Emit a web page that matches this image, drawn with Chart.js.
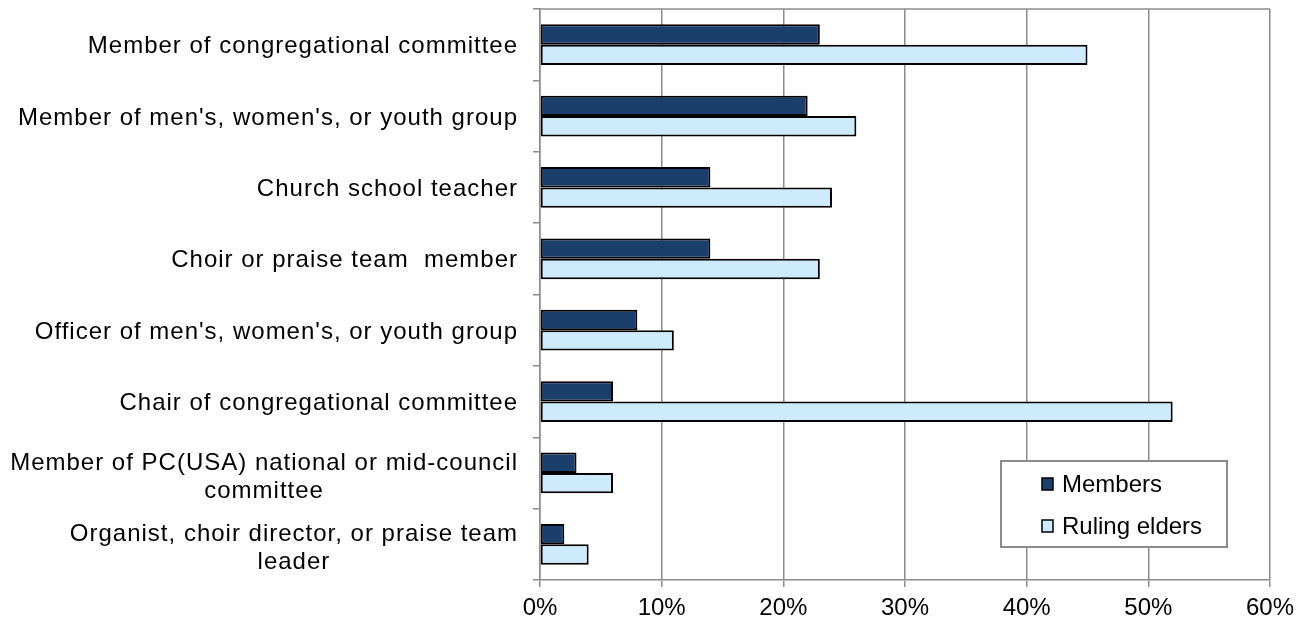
<!DOCTYPE html>
<html lang="en">
<head>
<meta charset="UTF-8">
<title>Congregational roles</title>
<script src="https://cdn.jsdelivr.net/npm/chart.js"></script>
<style>
    body { margin: 0; background: #ffffff; }
    #chart { display: block; }
</style>
</head>
<body>
<canvas id="chart" width="1308" height="627"></canvas>
<script>
// roles, one array per label (extra entries = extra lines)
var roles = [
    ['Member of congregational committee'],
    ["Member of men's, women's, or youth group"],
    ['Church school teacher'],
    ['Choir or praise team  member'],
    ["Officer of men's, women's, or youth group"],
    ['Chair of congregational committee'],
    ['Member of PC(USA) national or mid-council', 'committee'],
    ['Organist, choir director, or praise team', 'leader']
];
var members = [23, 22, 14, 14, 8, 6, 3, 2];
var rulingElders = [45, 26, 24, 23, 11, 52, 6, 4];
var percentTicks = [0, 10, 20, 30, 40, 50, 60];

var FAMILY = '"Liberation Sans", Arial, sans-serif';
var FONT = '24px ' + FAMILY;
var GRID = '#8c8c8c';

// category labels: block right-aligned, lines centred inside the block
var roleLabels = {
    id: 'roleLabels',
    afterDraw: function (chart) {
        var ctx = chart.ctx, y = chart.scales.y, area = chart.chartArea;
        ctx.save();
        ctx.letterSpacing = '1px';
        ctx.font = FONT;
        ctx.fillStyle = '#000';
        ctx.textAlign = 'center';
        ctx.textBaseline = 'middle';
        var right = area.left - 22;
        var lh = 28;
        roles.forEach(function (lines, i) {
            var w = Math.max.apply(null, lines.map(function (l) { return ctx.measureText(l).width; }));
            var cy = y.getPixelForValue(i) + 2 + (lines.length > 1 ? 2 : 0);
            lines.forEach(function (line, j) {
                ctx.fillText(line, right - w / 2, cy + (j - (lines.length - 1) / 2) * lh);
            });
        });
        // top edge of the plot
        ctx.strokeStyle = GRID;
        ctx.lineWidth = 1.5;
        ctx.beginPath();
        ctx.moveTo(area.left, area.top);
        ctx.lineTo(area.right, area.top);
        ctx.stroke();
        ctx.restore();
    }
};

// boxed legend sitting inside the plot, lower right
var boxLegend = {
    id: 'boxLegend',
    afterDraw: function (chart) {
        var ctx = chart.ctx;
        var bx = 1001, by = 461, bw = 226, bh = 86;
        ctx.save();
        ctx.fillStyle = '#ffffff';
        ctx.fillRect(bx, by, bw, bh);
        ctx.strokeStyle = GRID;
        ctx.lineWidth = 2;
        ctx.strokeRect(bx, by, bw, bh);
        ctx.font = FONT;
        ctx.textBaseline = 'middle';
        ctx.textAlign = 'left';
        chart.data.datasets.forEach(function (ds, i) {
            var cy = by + 23 + i * 42;
            ctx.fillStyle = ds.backgroundColor;
            ctx.fillRect(bx + 41, cy - 6, 11, 12);
            ctx.strokeStyle = '#000';
            ctx.lineWidth = 1.5;
            ctx.strokeRect(bx + 41, cy - 6, 11, 12);
            ctx.fillStyle = '#000';
            ctx.fillText(ds.label, bx + 61, cy + 1);
        });
        ctx.restore();
    }
};

new Chart(document.getElementById('chart'), {
    type: 'bar',
    data: {
        labels: roles.map(function (r) { return r.join(' '); }),
        datasets: [{
            label: 'Members',
            data: members,
            backgroundColor: '#1a3f6c',
            borderColor: '#000000',
            borderWidth: 2,
            borderSkipped: false
        }, {
            label: 'Ruling elders',
            data: rulingElders,
            backgroundColor: '#cdebfd',
            borderColor: '#000000',
            borderWidth: 2,
            borderSkipped: false
        }]
    },
    options: {
        indexAxis: 'y',
        responsive: false,
        animation: false,
        categoryPercentage: 0.57,
        barPercentage: 1.0,
        layout: { padding: { top: 9, right: 38, left: 0, bottom: 0 } },
        plugins: {
            legend: { display: false },
            tooltip: { enabled: false }
        },
        scales: {
            x: {
                min: percentTicks[0],
                max: percentTicks[percentTicks.length - 1],
                afterBuildTicks: function (scale) {
                    scale.ticks = percentTicks.map(function (v) { return { value: v }; });
                },
                afterFit: function (scale) { scale.height = 47; },
                grid: { color: GRID, lineWidth: 1.5, tickLength: 7 },
                border: { color: GRID, width: 1.5 },
                ticks: {
                    color: '#000',
                    font: { family: FAMILY, size: 24 },
                    padding: 7,
                    maxRotation: 0,
                    callback: function (v) { return v + '%'; }
                }
            },
            y: {
                afterFit: function (scale) { scale.width = 540; },
                grid: { drawOnChartArea: false, color: GRID, lineWidth: 1.5, tickLength: 7, offset: true },
                border: { color: GRID, width: 1.5 },
                ticks: { display: false }
            }
        }
    },
    plugins: [roleLabels, boxLegend]
});
</script>
</body>
</html>
